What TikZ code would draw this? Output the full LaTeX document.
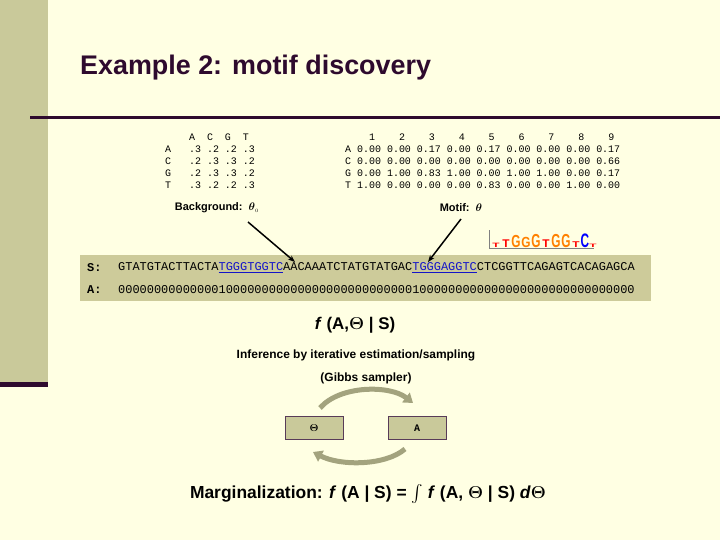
\documentclass[tikz,border=0pt]{standalone}
\usepackage{amsmath}
\usepackage{fontspec}
\setmainfont{Liberation Sans}
\newfontfamily\monofont{Liberation Mono}
\usetikzlibrary{arrows.meta}
\definecolor{slidebg}{HTML}{FFFFE3}
\definecolor{bandcol}{HTML}{C9C99A}
\definecolor{darkpurple}{HTML}{2E0A2E}
\definecolor{seqband}{HTML}{CDCB9A}
\definecolor{motifblue}{HTML}{1414C8}
\definecolor{cyclecol}{HTML}{A3A37E}
\newcommand\mot[1]{\textcolor{motifblue}{\underline{#1}}}

\begin{document}
\begin{tikzpicture}[x=1bp,y=-1bp,
    mono/.style={font=\monofont\fontsize{10}{10}\selectfont,anchor=west,inner sep=0pt},
    seq/.style={font=\monofont\fontsize{12}{12}\selectfont,anchor=west,inner sep=0pt},
    lbl/.style={font=\bfseries\fontsize{11}{11}\selectfont,inner sep=0pt},
    state/.style={draw=darkpurple!80,fill=bandcol,minimum width=58bp,minimum height=23bp,inner sep=0pt},
    cycle/.style={cyclecol,line width=5bp,-{Triangle[length=9bp,width=12bp]}},
    logo/.style={inner sep=0pt,font=\bfseries\fontsize{14}{14}\selectfont,anchor=south}]

  %% Slide background and frame
  \fill[slidebg] (0,0) rectangle (720,540);
  \useasboundingbox (0,0) rectangle (720,540);
  \fill[bandcol] (0,0) rectangle (48,382);
  \fill[darkpurple] (0,382) rectangle (48,387);
  \draw[darkpurple,line width=3bp] (30,118) -- (720,118);
  \node[anchor=west,inner sep=0pt,text=darkpurple,font=\bfseries\fontsize{27}{27}\selectfont] (title) at (80,68) {Example 2: motif discovery};

  %% Background table
  \foreach \row/\txt/\y in {h/{~~~~A~~C~~G~~T}/137,a/{A~~~.3~.2~.2~.3}/149,c/{C~~~.2~.3~.3~.2}/161,g/{G~~~.2~.3~.3~.2}/173,t/{T~~~.3~.2~.2~.3}/185}{
    \node[mono] (bg-\row) at (165,\y) {\txt};
  }
  %% Motif table
  \foreach \row/\txt/\y in {h/{~~~~1~~~~2~~~~3~~~~4~~~~5~~~~6~~~~7~~~~8~~~~9}/137,
      a/{A~0.00~0.00~0.17~0.00~0.17~0.00~0.00~0.00~0.17}/149,
      c/{C~0.00~0.00~0.00~0.00~0.00~0.00~0.00~0.00~0.66}/161,
      g/{G~0.00~1.00~0.83~1.00~0.00~1.00~1.00~0.00~0.17}/173,
      t/{T~1.00~0.00~0.00~0.00~0.83~0.00~0.00~1.00~0.00}/185}{
    \node[mono] (mt-\row) at (345,\y) {\txt};
  }

  \node[lbl] (bglabel) at (217,208) {Background:\ \ $\boldsymbol\theta_{\scriptscriptstyle 0}$};
  \node[lbl] (motlabel) at (461,208) {Motif:\ \ $\boldsymbol\theta$};

  %% Sequence logo
  \draw[gray,line width=.4bp] (489,248) -- (489,230) (489,248) -- (594,248);
  \foreach \ch/\col/\x/\h in {T/red/496/.45,T/red/506/.8,G/orange/516/1.25,G/orange/526/1.05,G/orange/536/1.35,T/red/546/.8,G/orange/556/1.35,G/orange/566/1.35,T/red/576/.6,C/blue/585/1.4,T/red/593/.35}{
    \node[logo,text=\col] at (\x,248) {\scalebox{.85}[\h]{\ch}};
  }

  %% Sequence band
  \fill[seqband] (80,255) rectangle (651,301);
  \node[seq,font=\monofont\bfseries\fontsize{12}{12}\selectfont] (slabel) at (87,268) {S:};
  \node[seq,font=\monofont\bfseries\fontsize{12}{12}\selectfont] (alabel) at (87,290) {A:};
  \node[seq] (sseq) at (118,268) {GTATGTACTTACTA\mot{TGGGTGGTC}AACAAATCTATGTATGAC\mot{TGGGAGGTC}CTCGGTTCAGAGTCACAGAGCA};
  \node[seq] (aseq) at (118,290) {000000000000001000000000000000000000000001000000000000000000000000000000};
  \coordinate (hit1) at (295,262);
  \coordinate (hit2) at (428,262);
  \draw[line width=1.5bp,-{Stealth[length=7bp]}] (248,222) -- (hit1);
  \draw[line width=1.5bp,-{Stealth[length=7bp]}] (461,219) -- (hit2);

  %% Joint distribution and sampler
  \node[lbl,font=\bfseries\fontsize{17}{17}\selectfont] (joint) at (355,325) {\textit{f} (A,$\boldsymbol\Theta$ | S)};
  \node[inner sep=0pt,font=\bfseries\fontsize{12}{12}\selectfont] (infer) at (356,355) {Inference by iterative estimation/sampling};
  \node[inner sep=0pt,font=\bfseries\fontsize{12}{12}\selectfont] (gibbs) at (366,378) {(Gibbs sampler)};

  \node[state] (theta) at (314,428) {\monofont\bfseries$\boldsymbol\Theta$};
  \node[state] (align) at (417,428) {\monofont\bfseries A};
  \draw[cycle] (320,408) .. controls (340,385) and (390,385) .. (413,403);
  \draw[cycle] (405,449) .. controls (385,466) and (340,466) .. (313,452);

  \node[lbl,font=\bfseries\fontsize{17.5}{17.5}\selectfont] (marg) at (368,494) {Marginalization: \textit{f} (A | S) = $\int$ \textit{f} (A, $\boldsymbol\Theta$ | S) \textit{d}$\boldsymbol\Theta$};
\end{tikzpicture}
\end{document}
